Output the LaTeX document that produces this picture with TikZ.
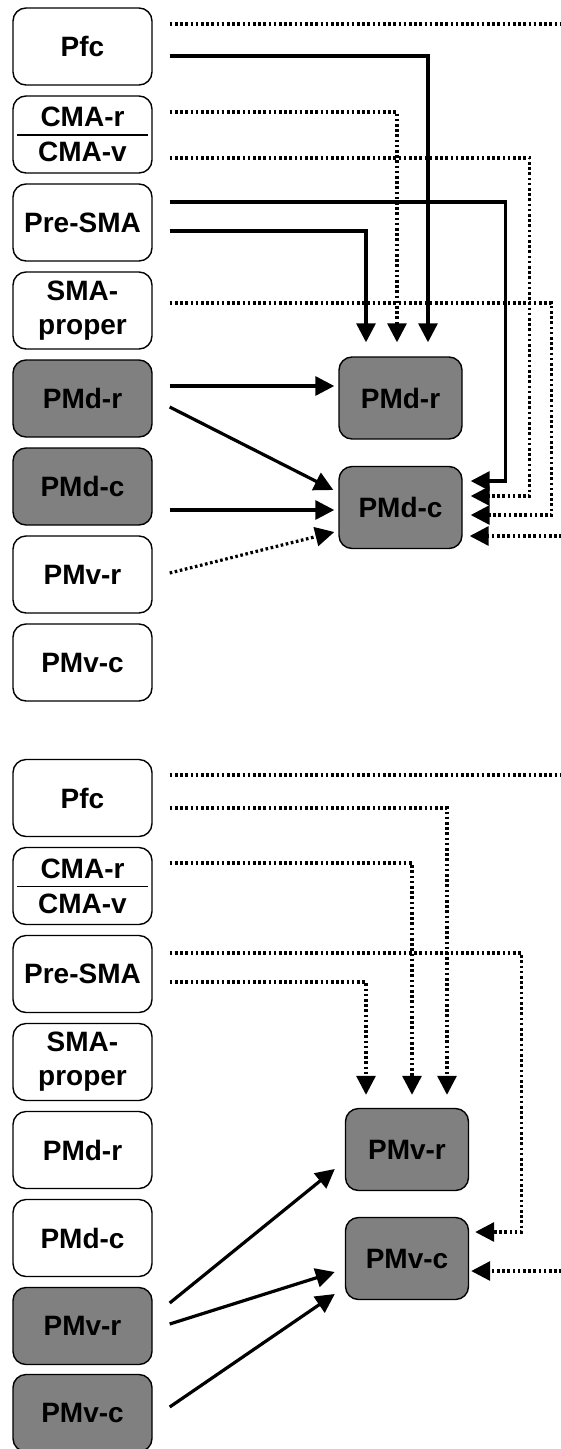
\documentclass[tikz,border=0pt]{standalone}
\usepackage{fontspec}
\setmainfont{Liberation Sans}
\usetikzlibrary{arrows.meta,calc}
\definecolor{boxgray}{HTML}{808080}
\begin{document}
\begin{tikzpicture}[x=1pt,y=-1pt,
  box/.style={draw=black,line width=1.4pt,rounded corners=13pt,inner sep=0pt,align=center,
    font=\fontsize{28}{34}\selectfont\bfseries},
  cmabox/.style={box,font=\fontsize{28}{35}\selectfont\bfseries},
  lbox/.style={minimum width=139pt,minimum height=77pt},
  rbox/.style={minimum width=123pt,minimum height=82pt},
  act/.style={fill=boxgray},
  idle/.style={fill=white},
  solarr/.style={line width=3.2pt,-{Triangle[length=19pt,width=19pt]}},
  dotarr/.style={line width=3.2pt,dash pattern=on 2.6pt off 2.6pt,-{Triangle[length=19pt,width=19pt]}},
  dotline/.style={line width=3.2pt,dash pattern=on 2.6pt off 2.6pt},
  sepline/.style={line width=1.4pt}
]
\useasboundingbox (0,0) rectangle (561,1449);

% ---------- upper panel ----------
\node[box,lbox,idle] (pfcA) at (82.5,46.5) {Pfc};
\node[cmabox,lbox,idle] (cmaA) at (82.5,134.5) {CMA-r\\CMA-v};
\node[box,lbox,idle] (preA) at (82.5,222.5) {Pre-SMA};
\node[box,lbox,idle] (smaA) at (82.5,310.5) {SMA-\\proper};
\node[box,lbox,act] (pmdrA) at (82.5,398.5) {PMd-r};
\node[box,lbox,act] (pmdcA) at (82.5,486.5) {PMd-c};
\node[box,lbox,idle] (pmvrA) at (82.5,574.5) {PMv-r};
\node[box,lbox,idle] (pmvcA) at (82.5,662.5) {PMv-c};
\draw[sepline] ($(cmaA.west)+(5,0.5)$) -- ($(cmaA.east)+(-5,0.5)$);

\node[box,rbox,act] (pmdrT) at (400.5,398) {PMd-r};
\node[box,rbox,act] (pmdcT) at (400.5,507.5) {PMd-c};

\coordinate (edgeA) at (562,24);
\coordinate (edgeB) at (562,536);

\draw[dotline] ($(pfcA.east)+(17,-22.5)$) -- (edgeA);
\draw[solarr] ($(pfcA.east)+(17,9.5)$) -| ($(pmdrT.north)+(27.5,-14)$);
\draw[dotarr] ($(cmaA.east)+(17,-22.5)$) -| ($(pmdrT.north)+(-3.5,-14)$);
\draw[solarr] ($(preA.east)+(17,8.5)$) -| ($(pmdrT.north)+(-34.5,-14)$);

\draw[dotarr] ($(cmaA.east)+(17,23.5)$) -| ($(pmdcT.east)+(67,-11.5)$) -- ($(pmdcT.east)+(8,-11.5)$);
\draw[solarr] ($(preA.east)+(17,-20.5)$) -| ($(pmdcT.east)+(43,-26.5)$) -- ($(pmdcT.east)+(8,-26.5)$);
\draw[dotarr] ($(smaA.east)+(17,-7.5)$) -| ($(pmdcT.east)+(89,7.5)$) -- ($(pmdcT.east)+(8,7.5)$);
\draw[dotarr] (edgeB) -- ($(pmdcT.east)+(7,28.5)$);

\draw[solarr] ($(pmdrA.east)+(17,-12.5)$) -- ($(pmdrT.west)+(-4,-12)$);
\draw[solarr] ($(pmdrA.east)+(17,8.5)$) -- ($(pmdcT.west)+(-5,-17.5)$);
\draw[solarr] ($(pmdcA.east)+(17,23.5)$) -- ($(pmdcT.west)+(-4,2.5)$);
\draw[dotarr] ($(pmvrA.east)+(17,-1.5)$) -- ($(pmdcT.west)+(-4,24.5)$);

% ---------- lower panel ----------
\node[box,lbox,idle] (pfcB) at (82.5,798) {Pfc};
\node[cmabox,lbox,idle] (cmaB) at (82.5,886) {CMA-r\\CMA-v};
\node[box,lbox,idle] (preB) at (82.5,974) {Pre-SMA};
\node[box,lbox,idle] (smaB) at (82.5,1062) {SMA-\\proper};
\node[box,lbox,idle] (pmdrB) at (82.5,1150) {PMd-r};
\node[box,lbox,idle] (pmdcB) at (82.5,1238) {PMd-c};
\node[box,lbox,act] (pmvrB) at (82.5,1326) {PMv-r};
\node[box,lbox,act] (pmvcB) at (82.5,1413) {PMv-c};
\draw[sepline] ($(cmaB.west)+(5,0.5)$) -- ($(cmaB.east)+(-5,0.5)$);

\node[box,rbox,act] (pmvrT) at (407,1149.5) {PMv-r};
\node[box,rbox,act] (pmvcT) at (407,1258.5) {PMv-c};

\coordinate (edgeC) at (562,775);
\coordinate (edgeD) at (562,1271);

\draw[dotline] ($(pfcB.east)+(17,-23)$) -- (edgeC);
\draw[dotarr] ($(pfcB.east)+(17,10)$) -| ($(pmvrT.north)+(40,-13)$);
\draw[dotarr] ($(cmaB.east)+(17,-23)$) -| ($(pmvrT.north)+(5,-13)$);
\draw[dotarr] ($(preB.east)+(17,8)$) -| ($(pmvrT.north)+(-41,-13)$);
\draw[dotarr] ($(preB.east)+(17,-21)$) -| ($(pmvcT.east)+(52,-26.5)$) -- ($(pmvcT.east)+(6,-26.5)$);
\draw[dotarr] (edgeD) -- ($(pmvcT.east)+(2,12.5)$);

\draw[solarr] ($(pmvrB.east)+(17,-23)$) -- ($(pmvrT.west)+(-10,19.5)$);
\draw[solarr] ($(pmvrB.east)+(17,-2)$) -- ($(pmvcT.west)+(-10,13.5)$);
\draw[solarr] ($(pmvcB.east)+(17,-6)$) -- ($(pmvcT.west)+(-10,35.5)$);
\end{tikzpicture}
\end{document}
